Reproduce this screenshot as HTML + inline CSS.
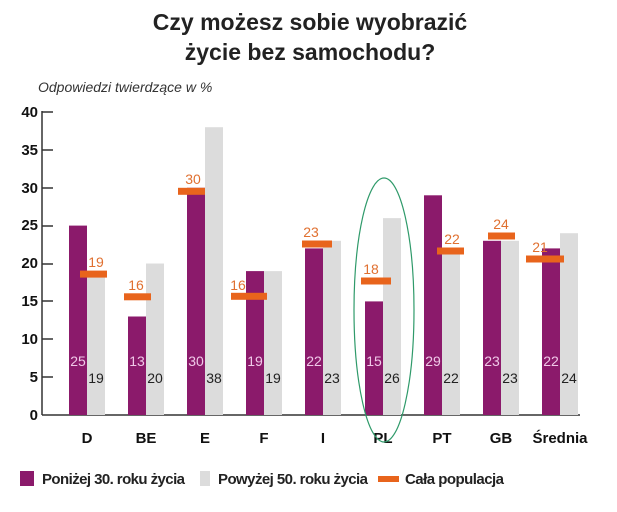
<!DOCTYPE html>
<html><head><meta charset="utf-8"><style>body{margin:0;background:#fff}svg{display:block}</style></head>
<body>
<svg width="617" height="512" xmlns="http://www.w3.org/2000/svg" font-family="Liberation Sans, sans-serif">
<text x="310" y="30" text-anchor="middle" font-size="23" font-weight="bold" fill="#222">Czy możesz sobie wyobrazić</text>
<text x="310" y="60" text-anchor="middle" font-size="23" font-weight="bold" fill="#222">życie bez samochodu?</text>
<text x="38" y="92" font-size="14" font-style="italic" fill="#333">Odpowiedzi twierdzące w %</text>
<g font-size="15" font-weight="bold" fill="#111" text-anchor="end">
<text x="38" y="420">0</text><text x="38" y="382">5</text><text x="38" y="344">10</text><text x="38" y="306">15</text><text x="38" y="268">20</text><text x="38" y="230">25</text><text x="38" y="193">30</text><text x="38" y="155">35</text><text x="38" y="117">40</text>
</g>
<g stroke="#333" stroke-width="1.5">
<line x1="42" y1="111" x2="42" y2="415"/><line x1="42" y1="415" x2="580" y2="415"/>
<line x1="42" y1="112" x2="53" y2="112"/><line x1="42" y1="150" x2="53" y2="150"/><line x1="42" y1="188" x2="53" y2="188"/><line x1="42" y1="226" x2="53" y2="226"/><line x1="42" y1="264" x2="53" y2="264"/><line x1="42" y1="301" x2="53" y2="301"/><line x1="42" y1="339" x2="53" y2="339"/><line x1="42" y1="377" x2="53" y2="377"/>
</g>
<g fill="#8b1a6b">
<rect x="69" y="225.6" width="18" height="189.4"/>
<rect x="128" y="316.5" width="18" height="98.5"/>
<rect x="187" y="187.8" width="18" height="227.2"/>
<rect x="246" y="271.1" width="18" height="143.9"/>
<rect x="305" y="248.4" width="18" height="166.6"/>
<rect x="365" y="301.4" width="18" height="113.6"/>
<rect x="424" y="195.3" width="18" height="219.7"/>
<rect x="483" y="240.8" width="18" height="174.2"/>
<rect x="542" y="248.4" width="18" height="166.6"/>
</g>
<g fill="#dcdcdc">
<rect x="87" y="271.1" width="18" height="143.9"/>
<rect x="146" y="263.5" width="18" height="151.5"/>
<rect x="205" y="127.2" width="18" height="287.8"/>
<rect x="264" y="271.1" width="18" height="143.9"/>
<rect x="323" y="240.8" width="18" height="174.2"/>
<rect x="383" y="218.1" width="18" height="196.9"/>
<rect x="442" y="248.4" width="18" height="166.6"/>
<rect x="501" y="240.8" width="18" height="174.2"/>
<rect x="560" y="233.2" width="18" height="181.8"/>
</g>
<g fill="#e8641c">
<rect x="80" y="270.6" width="27" height="7"/>
<rect x="124" y="293.3" width="27" height="7"/>
<rect x="178" y="187.8" width="27" height="7"/>
<rect x="231" y="292.8" width="36" height="7"/>
<rect x="302" y="240.5" width="30" height="7"/>
<rect x="361" y="277.5" width="30" height="7"/>
<rect x="437" y="247.5" width="27" height="7"/>
<rect x="488" y="232.5" width="27" height="7"/>
<rect x="526" y="255.5" width="38" height="7"/>
</g>
<g font-size="14" fill="#e07030" text-anchor="middle">
<text x="96" y="267">19</text><text x="136" y="290">16</text><text x="193" y="184">30</text><text x="238" y="290">16</text><text x="311" y="237">23</text><text x="371" y="274">18</text><text x="452" y="244">22</text><text x="501" y="229">24</text><text x="540" y="252">21</text>
</g>
<g font-size="14" fill="#f0c8e8" text-anchor="middle">
<text x="78" y="366">25</text><text x="137" y="366">13</text><text x="196" y="366">30</text><text x="255" y="366">19</text><text x="314" y="366">22</text><text x="374" y="366">15</text><text x="433" y="366">29</text><text x="492" y="366">23</text><text x="551" y="366">22</text>
</g>
<g font-size="14" fill="#222" text-anchor="middle">
<text x="96" y="383">19</text><text x="155" y="383">20</text><text x="214" y="383">38</text><text x="273" y="383">19</text><text x="332" y="383">23</text><text x="392" y="383">26</text><text x="451" y="383">22</text><text x="510" y="383">23</text><text x="569" y="383">24</text>
</g>
<g font-size="15" font-weight="bold" fill="#111" text-anchor="middle">
<text x="87" y="443">D</text><text x="146" y="443">BE</text><text x="205" y="443">E</text><text x="264" y="443">F</text><text x="323" y="443">I</text><text x="383" y="443">PL</text><text x="442" y="443">PT</text><text x="501" y="443">GB</text><text x="560" y="443">Średnia</text>
</g>
<ellipse cx="384" cy="310" rx="30" ry="132" fill="none" stroke="#2f9a6a" stroke-width="1.2"/>
<rect x="20" y="471" width="14" height="15" fill="#8b1a6b"/>
<text x="42" y="484" font-size="15" font-weight="bold" fill="#222" textLength="143">Poniżej 30. roku życia</text>
<rect x="200" y="471" width="10" height="15" fill="#dcdcdc"/>
<text x="218" y="484" font-size="15" font-weight="bold" fill="#222" textLength="150">Powyżej 50. roku życia</text>
<rect x="378" y="476" width="21" height="6" fill="#e8641c"/>
<text x="405" y="484" font-size="15" font-weight="bold" fill="#222" textLength="99">Cała populacja</text>
</svg>
</body></html>
